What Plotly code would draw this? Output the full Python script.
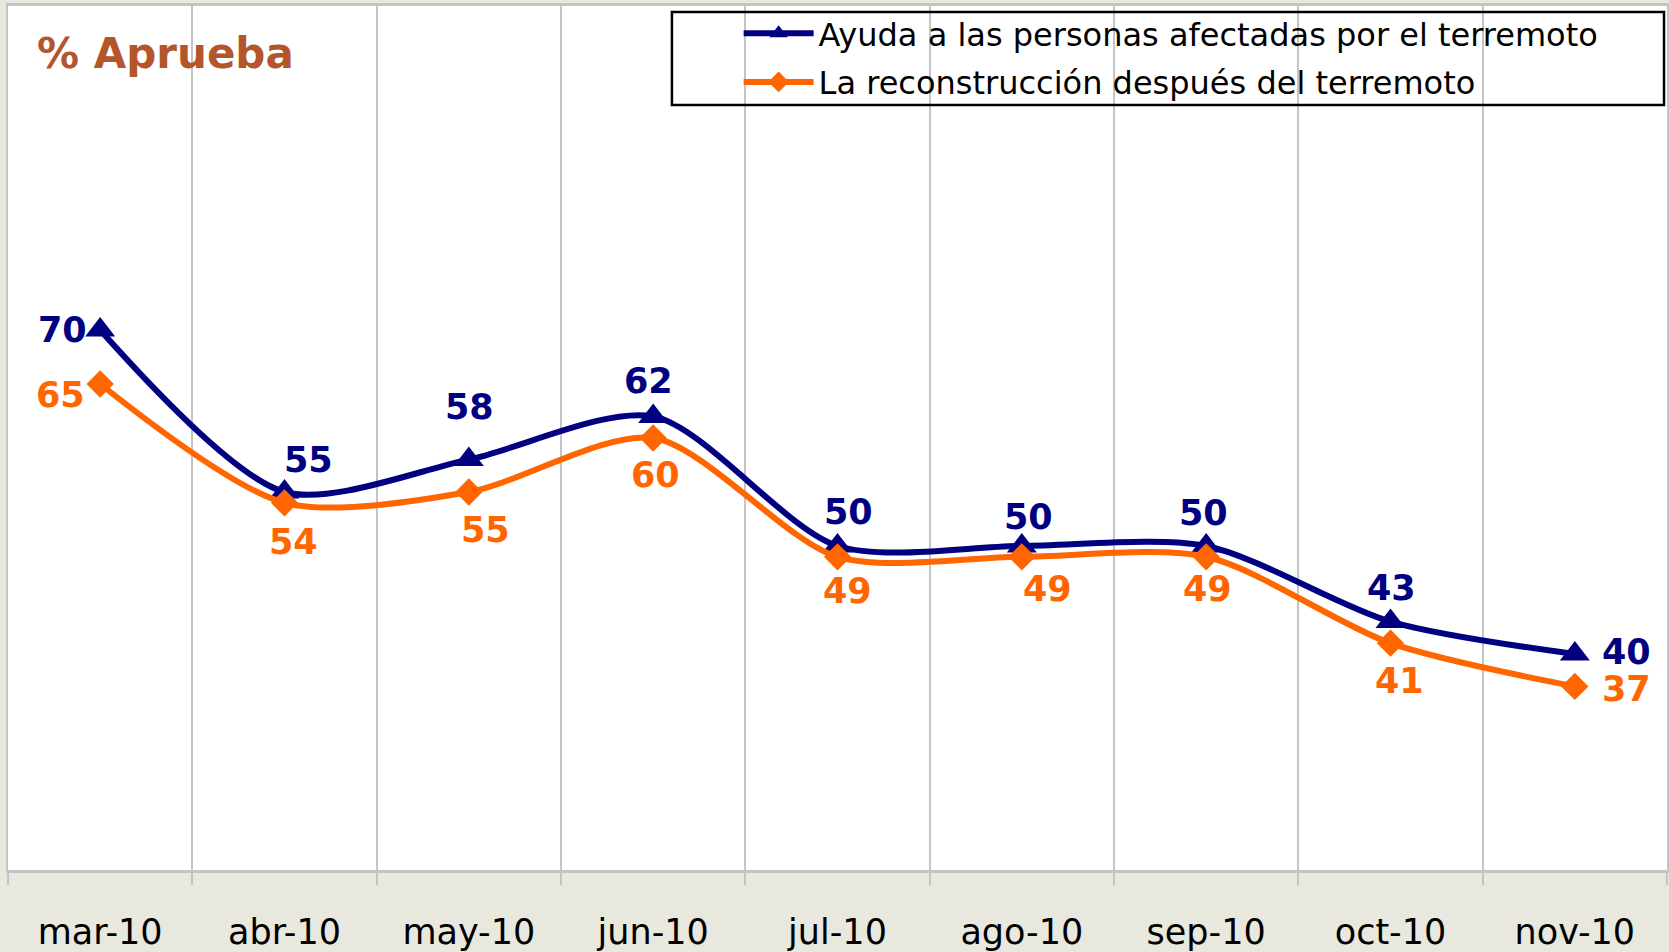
import plotly.graph_objects as go

# ---- data ----
months = ["mar-10", "abr-10", "may-10", "jun-10", "jul-10", "ago-10", "sep-10", "oct-10", "nov-10"]
ayuda = [70, 55, 58, 62, 50, 50, 50, 43, 40]
reconstruccion = [65, 54, 55, 60, 49, 49, 49, 41, 37]
series_names = ["Ayuda a las personas afectadas por el terremoto",
                "La reconstrucción después del terremoto"]
title_text = "% Aprueba"

# ---- styles ----
NAVY = "#000080"
ORANGE = "#FF6600"
BG = "#E8E8DE"
GRID = "#C4C4C4"

# label offsets (px) for data labels, per point
ayuda_off = [(-38, 0), (24, 32), (1, 53), (-5, 35), (11, 34), (7, 29), (-3, 33), (1, 34), (52, 2)]
recon_off = [(-40, -11), (9, -39), (17, -38), (2, -37), (10, -34), (26, -32), (1, -32), (9, -38), (52, -3)]

fig = go.Figure()
fig.add_trace(go.Scatter(
    x=months, y=ayuda, name=series_names[0], mode="lines+markers", legendgroup="a",
    line=dict(color=NAVY, width=6, shape="spline", smoothing=0.8),
    marker=dict(symbol="triangle-up", size=26, color=NAVY),
))
fig.add_trace(go.Scatter(
    x=months, y=reconstruccion, name=series_names[1], mode="lines+markers", legendgroup="b",
    line=dict(color=ORANGE, width=6, shape="spline", smoothing=0.8),
    marker=dict(symbol="diamond", size=21, color=ORANGE),
))

annotations = []
for vals, offs, col in ((ayuda, ayuda_off, NAVY), (reconstruccion, recon_off, ORANGE)):
    for m, v, (dx, dy) in zip(months, vals, offs):
        annotations.append(dict(
            x=m, y=v, xref="x", yref="y", text=str(v), showarrow=False,
            xshift=dx, yshift=dy, xanchor="center", yanchor="middle",
            font=dict(family="DejaVu Sans", size=35, color=col, weight="bold"),
        ))

annotations.append(dict(
    x=0.0163, y=0.9456, xref="paper", yref="paper", text=title_text, showarrow=False,
    xanchor="left", yanchor="middle",
    font=dict(family="DejaVu Sans", size=42, color="#B4552B", weight="bold"),
))

fig.update_layout(
    template="none",
    width=1669, height=952,
    margin=dict(l=8, r=2, t=6, b=82, pad=0),
    paper_bgcolor=BG, plot_bgcolor="white",
    showlegend=True,
    legend=dict(
        x=0.4404, y=1.0, xanchor="left", yanchor="top",
        bgcolor="rgba(0,0,0,0)", borderwidth=0,
        font=dict(family="DejaVu Sans", size=32, color="black"),
        itemwidth=70, traceorder="grouped", tracegroupgap=4,
    ),
    annotations=annotations,
    shapes=[dict(type="rect", xref="paper", yref="paper",
                 x0=0.4002, x1=0.9982, y0=0.8854, y1=0.9931,
                 line=dict(color="black", width=2.5), fillcolor="rgba(0,0,0,0)",
                 layer="above")],
)

fig.update_xaxes(
    type="category", range=[-0.5, len(months) - 0.5], automargin=False,
    tickson="boundaries", ticks="outside", ticklen=12, tickwidth=2, tickcolor=GRID,
    showgrid=True, gridcolor=GRID, gridwidth=2,
    showline=True, linecolor=GRID, linewidth=3, mirror=True,
    tickfont=dict(family="DejaVu Sans", size=35, color="black"),
    ticklabelstandoff=29, zeroline=False,
)
fig.update_yaxes(
    range=[20, 100], automargin=False, showticklabels=False, showgrid=False, zeroline=False,
    showline=True, linecolor=GRID, linewidth=2, mirror=True, ticks="",
)

fig.write_html(
    "out.html",
    config={"displayModeBar": False},
    post_script="document.body.style.margin='0';document.body.style.background='%s';" % BG,
)
